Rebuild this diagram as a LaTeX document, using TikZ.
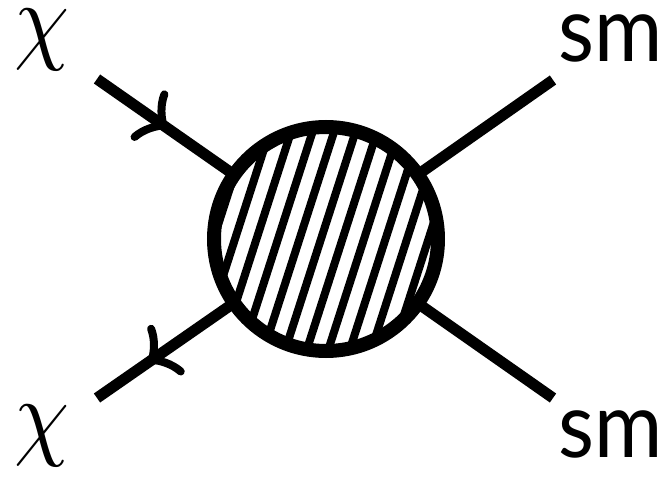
\documentclass[tikz,border=0pt]{standalone}
\usepackage{fontspec}
\setsansfont{Lato}
\usetikzlibrary{arrows.meta, calc, decorations.markings}

\begin{document}
\begin{tikzpicture}[
    x=1pt, y=-1pt,
    leg/.style={line width=11pt},
    barb/.style={line width=8pt, line cap=round},
    fermion/.style={postaction={decorate, decoration={markings,
        mark=at position #1 with {\draw[barb] (-17,-26) .. controls (-14,-14) and (-6,-5) .. (0,0) .. controls (-6,5) and (-14,14) .. (-17,26);}}}},
    blobline/.style={line width=14pt},
    hatch/.style={line width=8pt},
    chilabel/.style={inner sep=0pt, xscale=8.8, yscale=9.8},
    smlabel/.style={inner sep=0pt, anchor=base west, xscale=8.3, yscale=9.1, font=\sffamily},
]
    \useasboundingbox (0,0) rectangle (665,478);

    % blob and external legs
    \coordinate (blob) at (326,239);
    \coordinate (q1) at (97,79);
    \coordinate (q2) at (97,398);
    \coordinate (p1) at (553,80);
    \coordinate (p2) at (553,398);
    \draw[leg, fermion=0.29] (q1) -- (blob);
    \draw[leg, fermion=0.76] (blob) -- (q2);
    \draw[leg] (p1) -- (blob);
    \draw[leg] (p2) -- (blob);

    % hatched circle
    \fill[white] (blob) circle (112);
    \begin{scope}
        \clip (blob) circle (106);
        \foreach \k in {-6,...,6}
            \draw[hatch] ($(blob)+(\k*21.5-5,0)+(-40,124)$) -- ($(blob)+(\k*21.5-5,0)+(40,-124)$);
    \end{scope}
    \draw[blobline] (blob) circle (112);

    % labels
    \node[chilabel] (chi1) at (42,40) {$\chi$};
    \node[chilabel] (chi2) at (42,436) {$\chi$};
    \node[smlabel] (sm1) at (557,62) {sm};
    \node[smlabel] (sm2) at (557,458) {sm};
\end{tikzpicture}
\end{document}
